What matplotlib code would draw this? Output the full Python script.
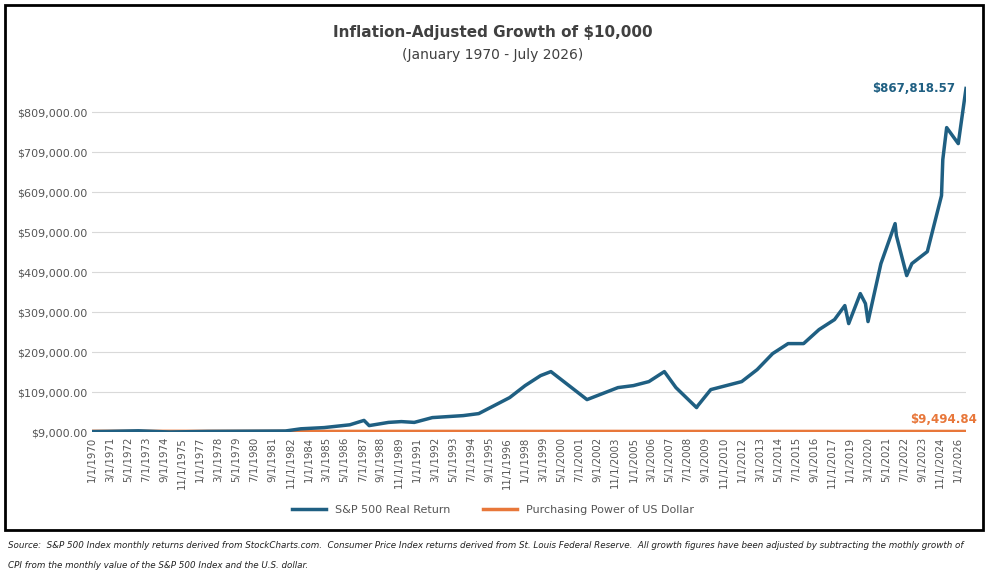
import numpy as np
import matplotlib.pyplot as plt
import matplotlib.patches as mpatches

# month index from Jan 1970, value in dollars
sp_months = [0, 12, 36, 60, 90, 120, 150, 162, 180, 200, 211, 215, 230, 240, 250, 264, 288, 300,
             312, 324, 336, 348, 356, 368, 384, 392, 408, 420, 432, 444, 453, 469, 470, 480,
             492, 504, 516, 528, 540, 552, 564, 576, 584, 587, 596, 600, 602, 612, 623, 624,
             632, 636, 648, 659, 660, 663, 672, 678]
sp_values = [10000, 10500, 12000, 9000, 10500, 11000, 11500, 17000, 20000, 27000, 38000, 25000,
             33000, 35000, 33000, 45000, 50000, 55000, 75000, 95000, 125000, 150000, 160000,
             130000, 90000, 100000, 120000, 125000, 135000, 160000, 120000, 70000, 75000, 115000,
             125000, 135000, 165000, 205000, 230000, 230000, 265000, 290000, 325000, 280000,
             355000, 330000, 285000, 430000, 530000, 500000, 400000, 430000, 460000, 600000,
             690000, 770000, 730000, 867818.57]
usd_months = [0, 120, 300, 480, 678]
usd_values = [9800, 9700, 9600, 9550, 9494.84]

n_months = 679
tick_pos = np.arange(0, 673, 14)
tick_labels = [f"{(p % 12) + 1}/1/{1970 + p // 12}" for p in tick_pos]
y_ticks = np.arange(9000, 810000, 100000)

blue = '#1f5f82'
orange = '#e8773a'

fig = plt.figure(figsize=(9.86, 5.74), dpi=100)
fig.patches.append(mpatches.Rectangle((5 / 986, 1 - 530 / 574), 978 / 986, 525 / 574,
                                      transform=fig.transFigure, fill=False, lw=2, ec='black'))
ax = fig.add_axes([92 / 986, 1 - 432 / 574, (966 - 92) / 986, (432 - 80) / 574])

ax.plot(usd_months, usd_values, color=orange, lw=3)
ax.plot(sp_months, sp_values, color=blue, lw=2.5)
ax.set_xlim(0, n_months - 1)
ax.set_ylim(9000, 889000)
ax.set_yticks(y_ticks)
ax.set_yticklabels([f"${v:,.2f}" for v in y_ticks], fontsize=8, color='#555555')
ax.set_xticks(tick_pos)
ax.set_xticklabels(tick_labels, rotation=90, fontsize=7.3, color='#555555')
ax.tick_params(length=0)
ax.grid(axis='y', color='#d9d9d9', lw=0.8)
for s in ax.spines.values():
    s.set_visible(False)

ax.annotate(f"${sp_values[-1]:,.2f}", (sp_months[-1], sp_values[-1]), xytext=(-8, 0),
            textcoords='offset points', ha='right', va='center', color=blue,
            fontsize=8.5, fontweight='bold')
ax.annotate(f"${usd_values[-1]:,.2f}", (usd_months[-1], usd_values[-1]), xytext=(8, 4),
            textcoords='offset points', ha='right', va='bottom', color=orange,
            fontsize=8.5, fontweight='bold')

fig.text(0.5, 1 - 33 / 574, "Inflation-Adjusted Growth of $10,000", ha='center', va='center',
         fontsize=11, fontweight='bold', color='#404040')
fig.text(0.5, 1 - 55 / 574, "(January 1970 - July 2026)", ha='center', va='center',
         fontsize=10, color='#404040')

handles = [plt.Line2D([], [], color=blue, lw=2.5), plt.Line2D([], [], color=orange, lw=2.5)]
fig.legend(handles, ["S&P 500 Real Return", "Purchasing Power of US Dollar"],
           loc='center', bbox_to_anchor=(0.5, 1 - 510 / 574), ncol=2, frameon=False,
           fontsize=8, labelcolor='#555555', handlelength=3, columnspacing=3)

fig.text(8 / 986, 1 - 546 / 574,
         "Source:  S&P 500 Index monthly returns derived from StockCharts.com.  Consumer Price Index returns derived from St. Louis Federal Reserve.  All growth figures have been adjusted by subtracting the mothly growth of",
         fontsize=6.3, style='italic', va='center', color='#222222')
fig.text(8 / 986, 1 - 565 / 574, "CPI from the monthly value of the S&P 500 Index and the U.S. dollar.",
         fontsize=6.3, style='italic', va='center', color='#222222')

fig.savefig('out.png', dpi=100)
